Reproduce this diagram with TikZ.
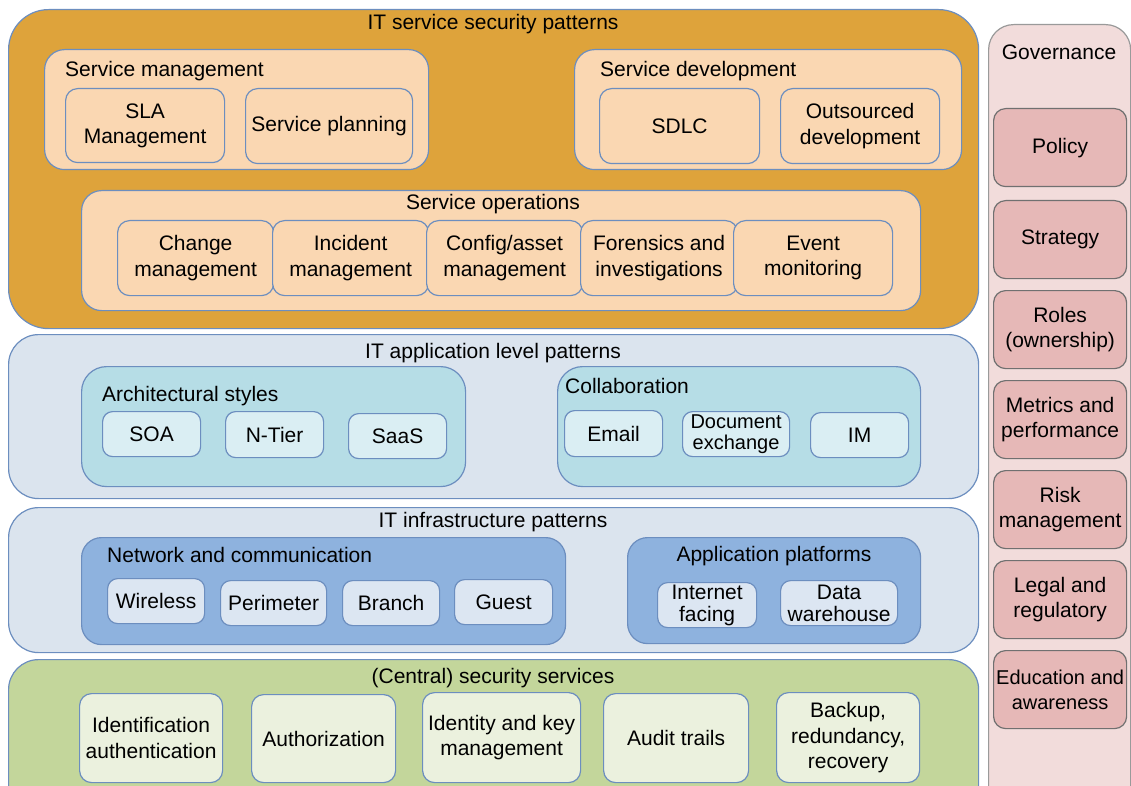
\documentclass[tikz,border=0pt]{standalone}
\usepackage{fontspec}
\setmainfont{Liberation Sans}
\definecolor{bblue}{HTML}{6C8EBF}
\definecolor{gold}{HTML}{DEA33B}
\definecolor{peach}{HTML}{FAD7B2}
\definecolor{paleblue}{HTML}{DBE4EE}
\definecolor{teal}{HTML}{B6DDE6}
\definecolor{tealitem}{HTML}{DAEEF3}
\definecolor{netblue}{HTML}{8EB2DE}
\definecolor{netitem}{HTML}{DCE6F2}
\definecolor{green}{HTML}{C3D69B}
\definecolor{greenitem}{HTML}{EBF1DE}
\definecolor{govbg}{HTML}{F2DCDB}
\definecolor{govitem}{HTML}{E6B8B7}
\definecolor{govline}{HTML}{9A9A9A}
\definecolor{govitemline}{HTML}{707070}
\begin{document}
\begin{tikzpicture}[x=1pt,y=-1pt,
  txt/.style={font=\fontsize{21}{25.5}\selectfont},
  box/.style={draw=bblue, line width=1.2pt, anchor=north west, inner sep=0pt, align=center, txt},
  outer/.style={box, rounded corners=#1},
  item/.style={box, rounded corners=12pt},
  title/.style={anchor=base, inner sep=0pt, txt},
  ltitle/.style={anchor=base west, inner sep=0pt, txt},
  tight/.style={font=\fontsize{21}{22}\selectfont}
]
\useasboundingbox (0,0) rectangle (1131,786);
\clip (0,0) rectangle (1131,786);

% ---------- IT service security patterns ----------
\node[outer=40pt, fill=gold, minimum width=970pt, minimum height=319pt] (svc) at (8,9) {};
\node[title] (svct) at (493,30) {IT service security patterns};

\node[outer=20pt, fill=peach, minimum width=384pt, minimum height=120pt] (sm) at (44,49) {};
\node[ltitle] (smt) at (65,77) {Service management};
\node[item, fill=peach, minimum width=159pt, minimum height=74pt] (sla) at (65,88) {SLA\\Management};
\node[item, fill=peach, minimum width=167pt, minimum height=75pt] (sp) at (245,88) {Service planning};

\node[outer=20pt, fill=peach, minimum width=387pt, minimum height=120pt] (sd) at (574,49) {};
\node[ltitle] (sdt) at (600,77) {Service development};
\node[item, fill=peach, minimum width=160pt, minimum height=75pt] (sdlc) at (599,88) {SDLC};
\node[item, fill=peach, minimum width=159pt, minimum height=75pt] (outs) at (780,88) {Outsourced\\development};

\node[outer=20pt, fill=peach, minimum width=839pt, minimum height=120pt] (so) at (81,190) {};
\node[title] (sot) at (493,210) {Service operations};
\node[item, fill=peach, minimum width=156pt, minimum height=75pt] (chg) at (117,220) {Change\\management};
\node[item, fill=peach, minimum width=156pt, minimum height=75pt] (inc) at (272,220) {Incident\\management};
\node[item, fill=peach, minimum width=156pt, minimum height=75pt] (cfg) at (426,220) {Config/asset\\management};
\node[item, fill=peach, minimum width=157pt, minimum height=75pt] (for) at (580,220) {Forensics and\\investigations};
\node[item, fill=peach, minimum width=159pt, minimum height=75pt] (evt) at (733,220) {Event\\monitoring};

% ---------- Governance ----------
\node[box, rounded corners=25pt, draw=govline, fill=govbg, minimum width=142pt, minimum height=800pt] (gov) at (988,24) {};
\node[title] (govt) at (1059,60) {Governance};
\node[item, draw=govitemline, fill=govitem, minimum width=133pt, minimum height=78pt] (pol) at (993,108) {Policy};
\node[item, draw=govitemline, fill=govitem, minimum width=133pt, minimum height=78pt] (str) at (993,200) {Strategy};
\node[item, draw=govitemline, fill=govitem, minimum width=133pt, minimum height=78pt] (rol) at (993,290) {Roles\\(ownership)};
\node[item, draw=govitemline, fill=govitem, minimum width=133pt, minimum height=78pt] (met) at (993,380) {Metrics and\\performance};
\node[item, draw=govitemline, fill=govitem, minimum width=133pt, minimum height=78pt] (rsk) at (993,470) {Risk\\management};
\node[item, draw=govitemline, fill=govitem, minimum width=133pt, minimum height=78pt] (leg) at (993,560) {Legal and\\regulatory};
\node[item, draw=govitemline, fill=govitem, minimum width=133pt, minimum height=78pt, font=\fontsize{20}{25}\selectfont] (edu) at (993,650) {Education and\\awareness};

% ---------- IT application level patterns ----------
\node[outer=30pt, fill=paleblue, minimum width=970pt, minimum height=164pt] (app) at (8,334) {};
\node[title] (appt) at (493,358) {IT application level patterns};

\node[outer=25pt, fill=teal, minimum width=384pt, minimum height=120pt] (arch) at (81,366) {};
\node[ltitle] (archt) at (102,401) {Architectural styles};
\node[item, rounded corners=10pt, fill=tealitem, minimum width=98pt, minimum height=45pt] (soa) at (102,411) {SOA};
\node[item, rounded corners=10pt, fill=tealitem, minimum width=98pt, minimum height=46pt] (ntier) at (225,411) {N-Tier};
\node[item, rounded corners=10pt, fill=tealitem, minimum width=98pt, minimum height=45pt] (saas) at (348,413) {SaaS};

\node[outer=25pt, fill=teal, minimum width=363pt, minimum height=120pt] (col) at (557,366) {};
\node[ltitle] (colt) at (565,393) {Collaboration};
\node[item, rounded corners=10pt, fill=tealitem, minimum width=98pt, minimum height=46pt] (email) at (564,410) {Email};
\node[item, rounded corners=10pt, fill=tealitem, minimum width=107pt, minimum height=45pt, font=\fontsize{20}{21}\selectfont] (doc) at (682,411) {Document\\exchange};
\node[item, rounded corners=10pt, fill=tealitem, minimum width=98pt, minimum height=45pt] (im) at (810,412) {IM};

% ---------- IT infrastructure patterns ----------
\node[outer=30pt, fill=paleblue, minimum width=970pt, minimum height=145pt] (inf) at (8,507) {};
\node[title] (inft) at (493,527) {IT infrastructure patterns};

\node[outer=20pt, fill=netblue, minimum width=484pt, minimum height=107pt] (net) at (81,537) {};
\node[ltitle] (nett) at (107,562) {Network and communication};
\node[item, rounded corners=10pt, fill=netitem, minimum width=97pt, minimum height=45pt] (wir) at (107,578) {Wireless};
\node[item, rounded corners=10pt, fill=netitem, minimum width=106pt, minimum height=45pt] (per) at (220,580) {Perimeter};
\node[item, rounded corners=10pt, fill=netitem, minimum width=97pt, minimum height=45pt] (bra) at (342,580) {Branch};
\node[item, rounded corners=10pt, fill=netitem, minimum width=98pt, minimum height=45pt] (gue) at (454,579) {Guest};

\node[outer=20pt, fill=netblue, minimum width=293pt, minimum height=106pt] (apl) at (627,537) {};
\node[title] (aplt) at (774,561) {Application platforms};
\node[item, rounded corners=10pt, fill=netitem, minimum width=99pt, minimum height=45pt, tight] (inet) at (657,582) {Internet\\facing};
\node[item, rounded corners=10pt, fill=netitem, minimum width=117pt, minimum height=45pt, tight] (dwh) at (780,580) {Data\\warehouse};

% ---------- (Central) security services ----------
\node[outer=30pt, fill=green, minimum width=970pt, minimum height=170pt] (css) at (8,659) {};
\node[title] (csst) at (493,683) {(Central) security services};
\node[item, fill=greenitem, minimum width=143pt, minimum height=89pt] (ida) at (79,693) {Identification\\authentication};
\node[item, fill=greenitem, minimum width=144pt, minimum height=88pt] (aut) at (251,694) {Authorization};
\node[item, fill=greenitem, minimum width=158pt, minimum height=90pt] (idk) at (422,692) {Identity and key\\management};
\node[item, fill=greenitem, minimum width=145pt, minimum height=89pt] (aud) at (603,693) {Audit trails};
\node[item, fill=greenitem, minimum width=143pt, minimum height=90pt] (bak) at (776,692) {Backup,\\redundancy,\\recovery};
\end{tikzpicture}
\end{document}
